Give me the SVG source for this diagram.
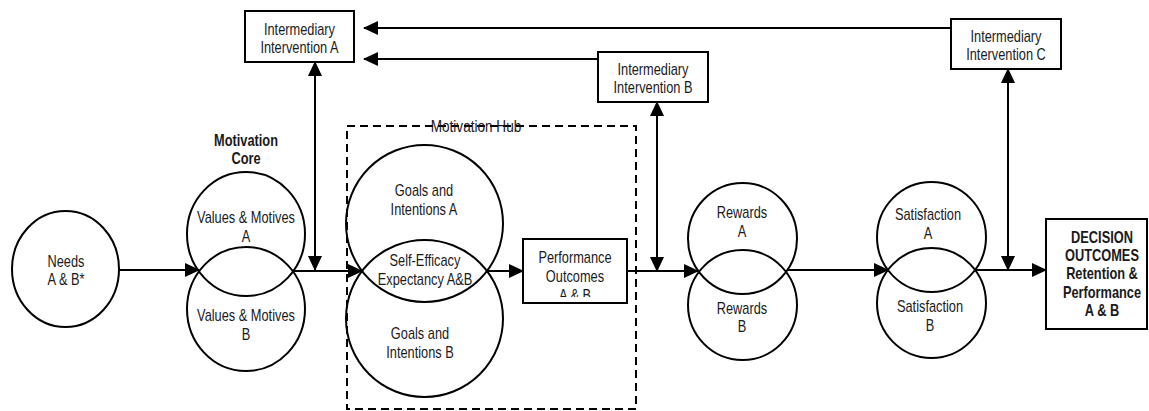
<svg xmlns="http://www.w3.org/2000/svg" width="1149" height="411" viewBox="0 0 1149 411">
<style>
text{font-family:"Liberation Sans Narrow","Liberation Sans",Arial,sans-serif;font-size:16px;fill:#1a1a1a;text-anchor:middle}
.b{font-weight:bold}
.shape{fill:none;stroke:#000;stroke-width:2}
.box{fill:#fff;stroke:#000;stroke-width:2}
.con{fill:none;stroke:#000;stroke-width:2}
</style>
<defs>
<marker id="ah" markerUnits="userSpaceOnUse" markerWidth="15" markerHeight="14" refX="14" refY="7" orient="auto">
<path d="M0,0 L15,7 L0,14 z" fill="#000"/>
</marker>
<clipPath id="perfclip"><rect x="523" y="239" width="104" height="58"/></clipPath>
</defs>
<rect width="1149" height="411" fill="#fff"/>

<g id="hub">
<rect x="347" y="126" width="289" height="283" fill="none" stroke="#000" stroke-width="2" stroke-dasharray="8,5"/>
<g transform="translate(95.2,0) scale(0.8,1)"><text x="476" y="132" style="font-size:17px">Motivation Hub</text></g>
</g>

<g id="connectors">
<line class="con" x1="119" y1="270" x2="199" y2="270" marker-end="url(#ah)"/>
<line class="con" x1="293" y1="271" x2="362" y2="271" marker-end="url(#ah)"/>
<line class="con" x1="315" y1="166" x2="315" y2="62" marker-end="url(#ah)"/>
<line class="con" x1="315" y1="166" x2="315" y2="270" marker-end="url(#ah)"/>
<line class="con" x1="487" y1="271" x2="523" y2="271" marker-end="url(#ah)"/>
<line class="con" x1="627" y1="271" x2="698" y2="271" marker-end="url(#ah)"/>
<line class="con" x1="657" y1="186" x2="657" y2="102" marker-end="url(#ah)"/>
<line class="con" x1="657" y1="186" x2="657" y2="271" marker-end="url(#ah)"/>
<line class="con" x1="787" y1="270" x2="888" y2="270" marker-end="url(#ah)"/>
<line class="con" x1="976" y1="270" x2="1046" y2="270" marker-end="url(#ah)"/>
<line class="con" x1="1008" y1="170" x2="1008" y2="69" marker-end="url(#ah)"/>
<line class="con" x1="1008" y1="170" x2="1008" y2="270" marker-end="url(#ah)"/>
<line class="con" x1="951" y1="28" x2="364" y2="28" marker-end="url(#ah)"/>
<line class="con" x1="598" y1="59" x2="364" y2="59" marker-end="url(#ah)"/>
</g>

<g id="intA">
<rect class="box" x="245" y="11" width="109" height="51"/>
<g transform="translate(59.9,0) scale(0.8,1)">
<text x="299.5" y="35">Intermediary</text>
<text x="299.5" y="53">Intervention A</text>
</g>
</g>
<g id="intB">
<rect class="box" x="598" y="52" width="110" height="50"/>
<g transform="translate(130.6,0) scale(0.8,1)">
<text x="653" y="75">Intermediary</text>
<text x="653" y="93">Intervention B</text>
</g>
</g>
<g id="intC">
<rect class="box" x="951" y="19" width="110" height="50"/>
<g transform="translate(201.2,0) scale(0.8,1)">
<text x="1006" y="42">Intermediary</text>
<text x="1006" y="60">Intervention C</text>
</g>
</g>

<g id="motivationCore" transform="translate(49.2,0) scale(0.8,1)">
<text class="b" x="246" y="146">Motivation</text>
<text class="b" x="246" y="164">Core</text>
</g>

<g id="needs">
<ellipse class="shape" cx="65.5" cy="269" rx="53.5" ry="58"/>
<g transform="translate(13.2,0) scale(0.8,1)">
<text x="66" y="267">Needs</text>
<text x="66" y="285">A &amp; B*</text>
</g>
</g>

<g id="valuesA">
<ellipse class="shape" cx="246" cy="234" rx="59" ry="62"/>
<g transform="translate(49.2,0) scale(0.8,1)">
<text x="246" y="223">Values &amp; Motives</text>
<text x="246" y="242">A</text>
</g>
</g>
<g id="valuesB">
<ellipse class="shape" cx="246" cy="309" rx="59" ry="62"/>
<g transform="translate(49.2,0) scale(0.8,1)">
<text x="246" y="321">Values &amp; Motives</text>
<text x="246" y="340">B</text>
</g>
</g>

<g id="goalsA">
<circle class="shape" cx="424.5" cy="223.5" r="78.5"/>
<g transform="translate(84.8,0) scale(0.8,1)">
<text x="424" y="196">Goals and</text>
<text x="424" y="215">Intentions A</text>
</g>
</g>
<g id="goalsB">
<circle class="shape" cx="424.5" cy="318.5" r="78.5"/>
<g transform="translate(84,0) scale(0.8,1)">
<text x="420" y="339">Goals and</text>
<text x="420" y="358">Intentions B</text>
</g>
</g>
<g id="selfEfficacy" transform="translate(85,0) scale(0.8,1)">
<text x="425" y="266">Self-Efficacy</text>
<text x="425" y="285">Expectancy A&amp;B</text>
</g>

<g id="performance">
<rect class="box" x="523" y="239" width="104" height="64"/>
<g clip-path="url(#perfclip)">
<g transform="translate(115,0) scale(0.8,1)">
<text x="575" y="263">Performance</text>
<text x="575" y="282">Outcomes</text>
<text x="575" y="301">A &amp; B</text>
</g>
</g>
</g>

<g id="rewardsA">
<ellipse class="shape" cx="742.5" cy="238.5" rx="54.5" ry="55.5"/>
<g transform="translate(148.4,0) scale(0.8,1)">
<text x="742" y="218">Rewards</text>
<text x="742" y="237">A</text>
</g>
</g>
<g id="rewardsB">
<ellipse class="shape" cx="742.5" cy="305" rx="54.5" ry="55"/>
<g transform="translate(148.4,0) scale(0.8,1)">
<text x="742" y="314">Rewards</text>
<text x="742" y="332">B</text>
</g>
</g>

<g id="satisfactionA">
<ellipse class="shape" cx="931.5" cy="237" rx="54.5" ry="55"/>
<g transform="translate(185.6,0) scale(0.8,1)">
<text x="928" y="220">Satisfaction</text>
<text x="928" y="239">A</text>
</g>
</g>
<g id="satisfactionB">
<ellipse class="shape" cx="931.5" cy="303" rx="54.5" ry="55"/>
<g transform="translate(186,0) scale(0.8,1)">
<text x="930" y="312">Satisfaction</text>
<text x="930" y="331">B</text>
</g>
</g>

<g id="decision">
<rect class="box" x="1046" y="219" width="101" height="110"/>
<g transform="translate(220.4,0) scale(0.8,1)">
<text class="b" x="1102" y="243">DECISION</text>
<text class="b" x="1102" y="261">OUTCOMES</text>
<text class="b" x="1102" y="279">Retention &amp;</text>
<text class="b" x="1102" y="298">Performance</text>
<text class="b" x="1102" y="316">A &amp; B</text>
</g>
</g>
</svg>
